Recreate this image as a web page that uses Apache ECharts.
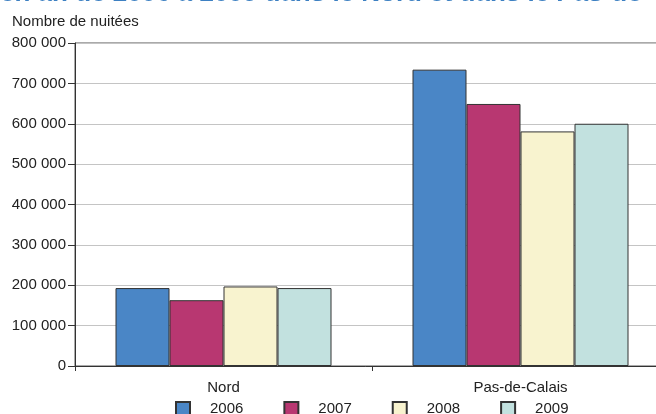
<!DOCTYPE html>
<html>
<head>
<meta charset="utf-8">
<script src="https://cdn.jsdelivr.net/npm/echarts@6/dist/echarts.min.js"></script>
<style>
html,body{margin:0;padding:0;background:#fff;}
#chart{width:656px;height:414px;}
</style>
</head>
<body>
<div id="chart"></div>
<script>
const titleText = "en an de 2006 à 2009 dans le Nord et dans le Pas-de-Calais";
const yAxisTitle = "Nombre de nuitées";
const categories = ["Nord", "Pas-de-Calais"];
const years = ["2006", "2007", "2008", "2009"];
const v2006 = [193000, 734000];
const v2007 = [163000, 649000];
const v2008 = [197000, 581000];
const v2009 = [193000, 600000];
const yTicks = [0, 100000, 200000, 300000, 400000, 500000, 600000, 700000, 800000];

const seriesValues = [v2006, v2007, v2008, v2009];
const colors = ["#4a86c6", "#b83771", "#f8f3cf", "#c2e1df"];
const font = "'Liberation Sans', Arial, sans-serif";

function fmt(v) {
  return String(v).replace(/\B(?=(\d{3})+(?!\d))/g, " ");
}

const chart = echarts.init(document.getElementById("chart"), null, {renderer: "canvas"});
chart.setOption({
  animation: false,
  backgroundColor: "#ffffff",
  textStyle: {fontFamily: font},
  graphic: [
    {type: "text", left: 0, top: -19, style: {text: titleText, font: "bold 26px " + font, fill: "#3d80c2"}},
    {type: "text", left: 12, top: 14, style: {text: yAxisTitle, font: "15px " + font, fill: "#222"}}
  ],
  grid: {left: 75, top: 43, right: -13, bottom: 48, outerBoundsMode: "none", containLabel: false, show: true, borderColor: "#555", borderWidth: 1, backgroundColor: "transparent"},
  legend: {
    data: years,
    left: 175, top: 401,
    padding: 0,
    itemWidth: 14, itemHeight: 14, itemGap: 40,
    icon: "rect",
    textStyle: {fontSize: 15, color: "#222", fontFamily: font, padding: [0, 0, 0, 15]}
  },
  xAxis: {
    type: "category",
    data: categories,
    axisLine: {lineStyle: {color: "#333"}},
    axisTick: {show: true, length: 5, lineStyle: {color: "#333"}},
    axisLabel: {fontSize: 15, color: "#222", margin: 14, fontFamily: font}
  },
  yAxis: {
    type: "value",
    min: yTicks[0], max: yTicks[yTicks.length - 1], interval: yTicks[1] - yTicks[0],
    axisLine: {show: true, lineStyle: {color: "#333"}},
    axisTick: {show: true, length: 7, lineStyle: {color: "#333"}},
    splitLine: {lineStyle: {color: "#c4c4c4", width: 1}},
    axisLabel: {fontSize: 15, color: "#222", margin: 9, fontFamily: font, formatter: fmt}
  },
  series: years.map((y, i) => ({
    name: y,
    type: "bar",
    data: seriesValues[i],
    barWidth: 54,
    barGap: "0%",
    itemStyle: {color: colors[i], borderColor: "#333", borderWidth: 1}
  }))
});
</script>
</body>
</html>
